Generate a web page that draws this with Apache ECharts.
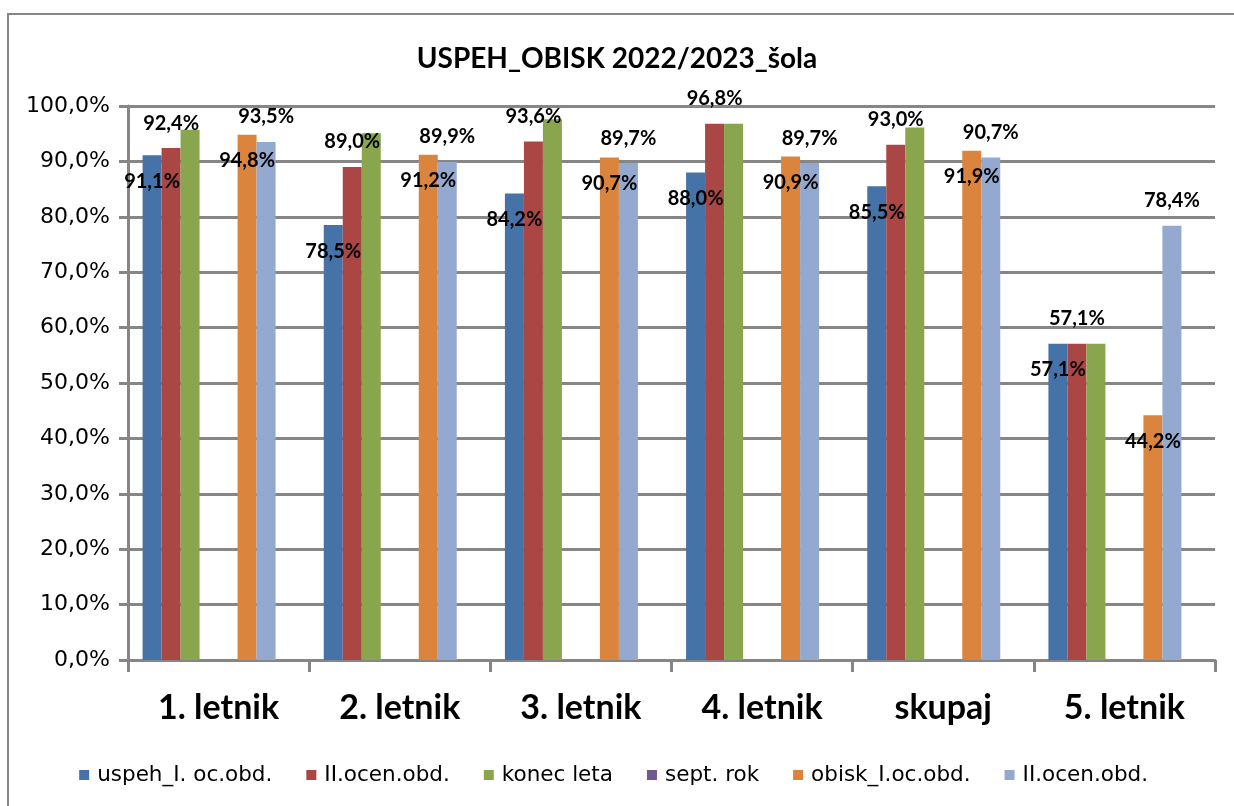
<!DOCTYPE html>
<html>
<head>
<meta charset="utf-8">
<script src="https://cdn.jsdelivr.net/npm/echarts@6/dist/echarts.min.js"></script>
<style>
  html, body { margin: 0; padding: 0; background: #fff; }
  #chart { width: 1234px; height: 806px; }
</style>
</head>
<body>
<div id="chart"></div>
<script>
// categories
const categories = ["1. letnik", "2. letnik", "3. letnik", "4. letnik", "skupaj", "5. letnik"];
// series values (%)
const uspehI = [91.1, 78.5, 84.2, 88.0, 85.5, 57.1];
const uspehII = [92.4, 89.0, 93.6, 96.8, 93.0, 57.1];
const konecLeta = [95.7, 95.1, 97.6, 96.8, 96.1, 57.1];
const septRok = [null, null, null, null, null, null];
const obiskI = [94.8, 91.2, 90.7, 90.9, 91.9, 44.2];
const obiskII = [93.5, 89.9, 89.7, 89.7, 90.7, 78.4];
// two empty series from the original sheet (no legend entry)
const prazno = [null, null, null, null, null, null];

const legendNames = ["uspeh_I. oc.obd.", "II.ocen.obd.", "konec leta", "sept. rok", "obisk_I.oc.obd.", "II.ocen.obd. "];

const grey = "#868686";
const font = "Lato, 'Open Sans', sans-serif";
const wideFont = "'DejaVu Sans', Verdana, sans-serif";

const pct = (v) => v.toFixed(1).replace(".", ",") + "%";

// label styles: inside (below the top) or above
const labelInside = {
  show: true,
  position: "insideTop",
  distance: 16,
  color: "#000",
  fontFamily: font,
  fontWeight: "bold",
  fontSize: 20,
  formatter: (p) => pct(p.value),
};
const labelAbove = {
  show: true,
  position: "top",
  distance: 15,
  color: "#000",
  fontFamily: font,
  fontWeight: "bold",
  fontSize: 20,
  formatter: (p) => pct(p.value),
};

let bar = (name, data, color, label) => ({
  name: name,
  type: "bar",
  data: data,
  barWidth: 19,
  barGap: "0%",
  itemStyle: { color: color },
  label: label || { show: false },
  emphasis: { disabled: true },
});

let chart = echarts.init(document.getElementById("chart"));
chart.setOption({
  animation: false,
  title: {
    text: "USPEH_OBISK 2022/2023_šola",
    left: "center",
    top: 40,
    textStyle: { fontFamily: font, fontSize: 28, fontWeight: "bold", color: "#000" },
  },
  graphic: [
    {
      type: "rect",
      shape: { x: 8, y: 14, width: 1240, height: 820 },
      style: { fill: "none", stroke: grey, lineWidth: 2 },
      silent: true,
    },
  ],
  legend: {
    data: legendNames,
    top: 759,
    left: "center",
    itemWidth: 10,
    itemHeight: 10,
    itemGap: 34,
    icon: "rect",
    textStyle: { fontFamily: wideFont, fontSize: 21.5, color: "#000", padding: [0, 0, 0, 3] },
  },
  grid: { left: 128, right: 19, top: 106, bottom: 146 },
  xAxis: {
    type: "category",
    data: categories,
    axisLine: { lineStyle: { color: grey, width: 3 } },
    axisTick: { show: true, length: 12, lineStyle: { color: grey, width: 3 } },
    axisLabel: { margin: 31, fontFamily: font, fontSize: 34, fontWeight: "bold", color: "#000" },
  },
  yAxis: {
    type: "value",
    min: 0,
    max: 100,
    interval: 10,
    axisLine: { show: true, lineStyle: { color: grey, width: 3 } },
    axisTick: { show: true, length: 9, lineStyle: { color: grey, width: 3 } },
    splitLine: { lineStyle: { color: grey, width: 3 } },
    axisLabel: { margin: 18, fontFamily: wideFont, fontSize: 22, color: "#000", formatter: (v) => pct(v) },
  },
  series: [
    bar(legendNames[0], uspehI, "#4572A7", labelInside),
    bar(legendNames[1], uspehII, "#AA4643", labelAbove),
    bar(legendNames[2], konecLeta, "#89A54E"),
    bar(legendNames[3], septRok, "#71588F"),
    bar("prazno1", prazno, "#4198AF"),
    bar(legendNames[4], obiskI, "#DB843D", labelInside),
    bar(legendNames[5], obiskII, "#93A9CF", labelAbove),
    bar("prazno2", prazno, "#A47D7C"),
  ],
});
</script>
</body>
</html>
